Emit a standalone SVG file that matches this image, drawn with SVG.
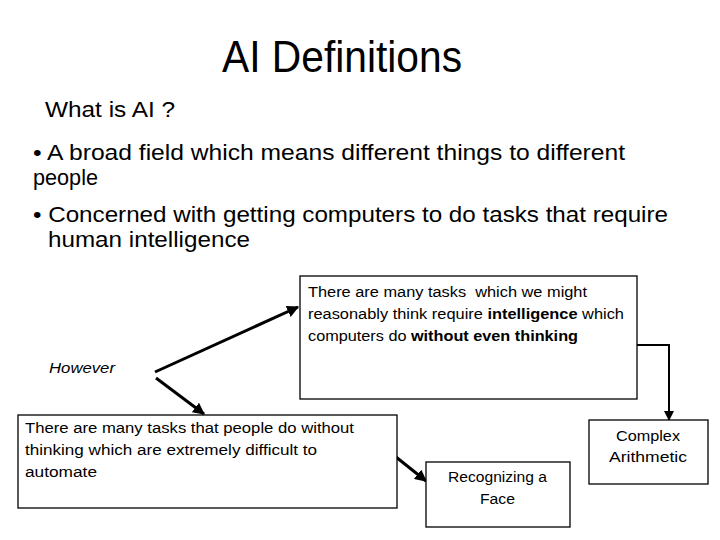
<svg xmlns="http://www.w3.org/2000/svg" width="720" height="540" viewBox="0 0 720 540">
<defs>
<style>
text{font-family:"Liberation Sans","Noto Sans",sans-serif;fill:#000}
.t{font-size:44px}
.h{font-size:22px}
.b{font-size:22px}
.s{font-size:14px}
.box{fill:#fff;stroke:#000;stroke-width:1.3}
.c{fill:none;stroke:#000;stroke-width:3}
.c2{fill:none;stroke:#000;stroke-width:2}
.bd{font-weight:bold}
</style>
<marker id="ah" viewBox="0 0 10 10" refX="9" refY="5" markerWidth="4" markerHeight="4" orient="auto" markerUnits="strokeWidth">
<path d="M0,0 L10,5 L0,10 z" fill="#000"/>
</marker>
<marker id="ah2" viewBox="0 0 10 10" refX="9" refY="5" markerWidth="5" markerHeight="5" orient="auto" markerUnits="strokeWidth">
<path d="M0,0 L10,5 L0,10 z" fill="#000"/>
</marker>
</defs>
<rect width="720" height="540" fill="#fff"/>
<g id="title">
<text class="t" x="222" y="72" textLength="240" lengthAdjust="spacingAndGlyphs">AI Definitions</text>
</g>
<g id="intro">
<text class="h" x="45" y="117" textLength="130" lengthAdjust="spacingAndGlyphs">What is AI ?</text>
<text class="b" x="33" y="160" textLength="592" lengthAdjust="spacingAndGlyphs">• A broad field which means different things to different</text>
<text class="b" x="33" y="185" textLength="65" lengthAdjust="spacingAndGlyphs">people</text>
<text class="b" x="33" y="222" textLength="635" lengthAdjust="spacingAndGlyphs">• Concerned with getting computers to do tasks that require</text>
<text class="b" x="48" y="247" textLength="202" lengthAdjust="spacingAndGlyphs">human intelligence</text>
</g>
<g id="however">
<text class="s" x="49" y="373" font-style="italic" textLength="66" lengthAdjust="spacingAndGlyphs">However</text>
</g>
<g id="connectors">
<line class="c" x1="155" y1="372" x2="298" y2="307" marker-end="url(#ah)"/>
<line class="c" x1="156" y1="378" x2="204" y2="414" marker-end="url(#ah)"/>
<line class="c" x1="396" y1="457" x2="426" y2="481" marker-end="url(#ah)"/>
<polyline class="c2" points="637,345 669,345 669,420" marker-end="url(#ah2)"/>
</g>
<g id="box1">
<rect class="box" x="300" y="276" width="337" height="123"/>
<text class="s" x="308" y="297" textLength="279" lengthAdjust="spacingAndGlyphs" xml:space="preserve">There are many tasks  which we might</text>
<text class="s" x="308" y="319" textLength="316" lengthAdjust="spacingAndGlyphs">reasonably think require <tspan class="bd">intelligence</tspan> which</text>
<text class="s" x="308" y="341" textLength="270" lengthAdjust="spacingAndGlyphs">computers do <tspan class="bd">without even thinking</tspan></text>
</g>
<g id="box2">
<rect class="box" x="18" y="415" width="379" height="93"/>
<text class="s" x="25" y="433" textLength="329" lengthAdjust="spacingAndGlyphs">There are many tasks that people do without</text>
<text class="s" x="25" y="455" textLength="292" lengthAdjust="spacingAndGlyphs">thinking which are extremely difficult to</text>
<text class="s" x="25" y="477" textLength="72" lengthAdjust="spacingAndGlyphs">automate</text>
</g>
<g id="face">
<rect class="box" x="426" y="462" width="144" height="65"/>
<text class="s" x="497.5" y="482" text-anchor="middle" textLength="99" lengthAdjust="spacingAndGlyphs">Recognizing a</text>
<text class="s" x="497.5" y="504" text-anchor="middle" textLength="35" lengthAdjust="spacingAndGlyphs">Face</text>
</g>
<g id="arith">
<rect class="box" x="589" y="420" width="119" height="64"/>
<text class="s" x="648" y="441" text-anchor="middle" textLength="64" lengthAdjust="spacingAndGlyphs">Complex</text>
<text class="s" x="648" y="462" text-anchor="middle" textLength="78" lengthAdjust="spacingAndGlyphs">Arithmetic</text>
</g>
</svg>
